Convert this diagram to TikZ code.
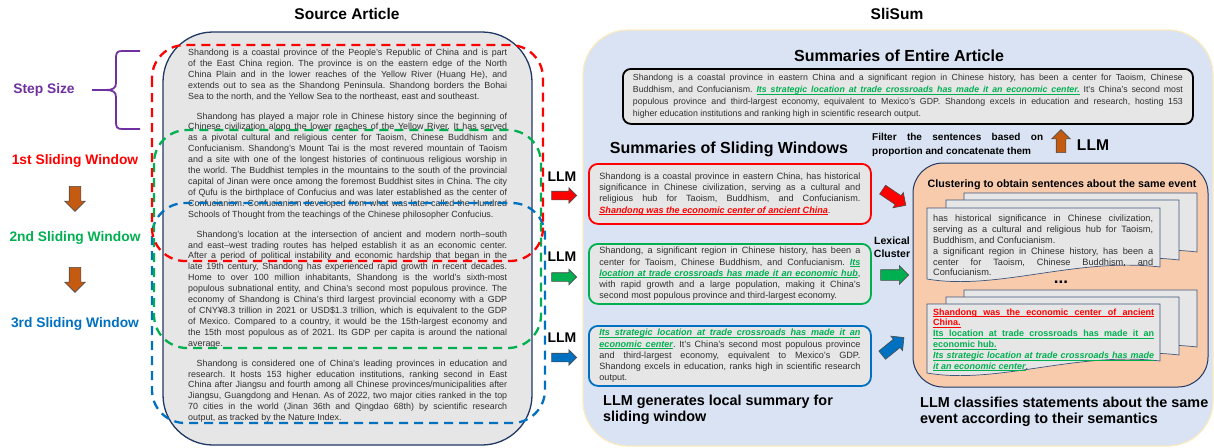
\documentclass[tikz,border=0pt]{standalone}
\usepackage{fontspec}
\setmainfont{Liberation Sans}
\usetikzlibrary{shapes.arrows}
\frenchspacing

\definecolor{winred}{HTML}{FF0000}
\definecolor{wingreen}{HTML}{00B050}
\definecolor{winblue}{HTML}{0070C0}
\definecolor{stepviolet}{HTML}{7030A0}
\definecolor{llmbrown}{HTML}{C55A11}
\definecolor{paper}{HTML}{E7E6E6}
\definecolor{navy}{HTML}{1F3864}
\definecolor{panelblue}{HTML}{DAE3F3}
\definecolor{panelrim}{HTML}{FBEBC0}
\definecolor{peach}{HTML}{F8CBAD}
\definecolor{bodytext}{HTML}{303030}

% underline word by word, so the gaps still stretch
\newcommand\ulword[1]{\setbox0\hbox{#1}\rlap{\vrule height -1.2pt depth 1.8pt width \wd0}\box0}
\newcommand\ulgap{\leaders\vrule height -1.2pt depth 1.8pt\hskip\fontdimen2\font plus\fontdimen3\font minus\fontdimen4\font}
\def\ulsplit#1 #2\ulstop{\ulword{#1}\ifx\relax#2\relax\else\ulgap\ulsplit#2\ulstop\fi}
\newcommand\uls[1]{\ulsplit#1 \ulstop}
% key sentence: [shape]{colour}{text}
\newcommand\keysent[3][\itshape]{\leavevmode{\color{#2}\bfseries#1\uls{#3}}}
% one page of a document stack, top left at (#1,#2), right edge #3 high
\newcommand\docsheet[3]{\draw[fill=paper,draw=navy!85,line width=.7pt](#1,#2)--(#1+233,#2)--(#1+233,#2+#3)
  .. controls (#1+150,#2+#3-10) and (#1+70,#2+#3+24) .. (#1,#2+#3+12)--cycle;}

\begin{document}
\begin{tikzpicture}[x=1pt,y=-1pt,
    paneltitle/.style={font=\fontsize{15.5}{18}\selectfont\bfseries},
    sumhead/.style={font=\fontsize{16}{19}\selectfont\bfseries},
    stagenote/.style={anchor=north west,inner sep=0pt,align=left,font=\fontsize{14.4}{16.6}\selectfont\bfseries},
    winlabel/.style={font=\fontsize{13.8}{16}\selectfont\bfseries},
    llmtag/.style={font=\fontsize{14}{16}\selectfont\bfseries},
    slidewin/.style={line width=2.3pt,dash pattern=on 9pt off 6pt,rounded corners=33pt},
    winsum/.style={draw=#1,line width=1.8pt,rounded corners=9pt,fill=paper,anchor=north west,
      text width=261pt,inner xsep=10.5pt,inner ysep=0pt,minimum height=60pt,align=justify,
      text=bodytext,font=\fontsize{9.1}{11.2}\selectfont},
    blockarrow/.style={single arrow,fill=#1,draw=black!70,line width=.6pt,inner xsep=0pt,inner ysep=4pt,
      single arrow head extend=3.5pt,single arrow head indent=0pt,minimum height=25pt}]
  \useasboundingbox (0,0) rectangle (1214,447);

  % source article
  \node[paneltitle] (srctitle) at (347,14) {Source Article};
  \draw[fill=paper,draw=navy,line width=1.3pt,rounded corners=50pt](163,32)rectangle(532,445);
  \node[anchor=north west,inner sep=0pt,text width=319pt,align=justify,text=bodytext,
    font=\fontsize{8.9}{10.9}\selectfont] (article) at (188,48.8) {%
    \setlength{\parskip}{9.1pt}\setlength{\parindent}{8.5pt}%
    Shandong is a coastal province of the People's Republic of China and is part\linebreak
    of the East China region. The province is on the eastern edge of the North\linebreak
    China Plain and in the lower reaches of the Yellow River (Huang He), and\linebreak
    extends out to sea as the Shandong Peninsula. Shandong borders the Bohai\linebreak
    Sea to the north, and the Yellow Sea to the northeast, east and southeast.\par
    Shandong has played a major role in Chinese history since the beginning of\linebreak
    Chinese civilization along the lower reaches of the Yellow River. It has served\linebreak
    as a pivotal cultural and religious center for Taoism, Chinese Buddhism and\linebreak
    Confucianism. Shandong's Mount Tai is the most revered mountain of Taoism\linebreak
    and a site with one of the longest histories of continuous religious worship in\linebreak
    the world. The Buddhist temples in the mountains to the south of the provincial\linebreak
    capital of Jinan were once among the foremost Buddhist sites in China. The city\linebreak
    of Qufu is the birthplace of Confucius and was later established as the center of\linebreak
    Confucianism. Confucianism developed from what was later called the Hundred\linebreak
    Schools of Thought from the teachings of the Chinese philosopher Confucius.\par
    Shandong's location at the intersection of ancient and modern north--south\linebreak
    and east--west trading routes has helped establish it as an economic center.\linebreak
    After a period of political instability and economic hardship that began in the\linebreak
    late 19th century, Shandong has experienced rapid growth in recent decades.\linebreak
    Home to over 100 million inhabitants, Shandong is the world's sixth-most\linebreak
    populous subnational entity, and China's second most populous province. The\linebreak
    economy of Shandong is China's third largest provincial economy with a GDP\linebreak
    of CNY¥8.3 trillion in 2021 or USD\$1.3 trillion, which is equivalent to the GDP\linebreak
    of Mexico. Compared to a country, it would be the 15th-largest economy and\linebreak
    the 15th most populous as of 2021. Its GDP per capita is around the national\linebreak
    average.\par
    Shandong is considered one of China's leading provinces in education and\linebreak
    research. It hosts 153 higher education institutions, ranking second in East\linebreak
    China after Jiangsu and fourth among all Chinese provinces/municipalities after\linebreak
    Jiangsu, Guangdong and Henan. As of 2022, two major cities ranked in the top\linebreak
    70 cities in the world (Jinan 36th and Qingdao 68th) by scientific research\linebreak
    output, as tracked by the Nature Index.};

  % the three windows
  \draw[slidewin,winblue](152,203)rectangle(545,423);
  \draw[slidewin,wingreen](154,130)rectangle(541,348);
  \draw[slidewin,winred](152,45)rectangle(543,261);

  % step size brace
  \draw[stepviolet,line width=1.8pt](140,51)--(122,51) .. controls (117,51) and (116,53) .. (116,58)
    --(116,83) .. controls (116,88) and (113,90) .. (106,90)--(92,90)
    (106,90) .. controls (113,90) and (116,92) .. (116,97)--(116,122)
    .. controls (116,127) and (117,129) .. (122,129)--(140,129);
  \node[winlabel,text=stepviolet] (stepsize) at (44,90) {Step Size};

  \node[winlabel,text=winred] (firstwin) at (75,161) {1st Sliding Window};
  \node[blockarrow=llmbrown,inner ysep=5.5pt,single arrow head extend=4.5pt,rotate=-90] (nextA) at (75,196) {};
  \node[winlabel,text=wingreen] (secondwin) at (75,238) {2nd Sliding Window};
  \node[blockarrow=llmbrown,inner ysep=5.5pt,single arrow head extend=4.5pt,rotate=-90] (nextB) at (75,277) {};
  \node[winlabel,text=winblue] (thirdwin) at (75,324) {3rd Sliding Window};

  % llm per window
  \node[llmtag] (llmA) at (562,177) {LLM};
  \node[blockarrow=winred] (toA) at (562,195.5) {};
  \node[llmtag] (llmB) at (562,257) {LLM};
  \node[blockarrow=wingreen] (toB) at (562,277) {};
  \node[llmtag] (llmC) at (562,338) {LLM};
  \node[blockarrow=winblue] (toC) at (562,357.5) {};

  % slisum
  \node[paneltitle] (slititle) at (897,14) {SliSum};
  \draw[fill=panelblue,draw=panelrim,line width=1.2pt,rounded corners=45pt](583,30)rectangle(1213,446);

  \node[sumhead] (entirehead) at (899,56) {Summaries of Entire Article};
  \node[draw=black,line width=1.8pt,rounded corners=8pt,fill=paper,anchor=north west,text width=550pt,
    inner xsep=10pt,inner ysep=0pt,minimum height=55pt,align=justify,text=bodytext,
    font=\fontsize{8.8}{12}\selectfont] (entiresum) at (622,68) {%
    Shandong is a coastal province in eastern China and a significant region in Chinese history, has been a center for Taoism, Chinese\linebreak
    Buddhism, and Confucianism. \keysent{wingreen}{Its strategic location at trade crossroads has made it an economic center.} It's China's second most\linebreak
    populous province and third-largest economy, equivalent to Mexico's GDP. Shandong excels in education and research, hosting 153\linebreak
    higher education institutions and ranking high in scientific research output.};

  \node[sumhead] (windowhead) at (729,149) {Summaries of Sliding Windows};
  \node[winsum=winred] (sumA) at (588,163) {%
    Shandong is a coastal province in eastern China, has historical\linebreak
    significance in Chinese civilization, serving as a cultural and\linebreak
    religious hub for Taoism, Buddhism, and Confucianism.\linebreak
    \keysent{winred}{Shandong was the economic center of ancient China}.};
  \node[winsum=wingreen] (sumB) at (588,243) {%
    Shandong, a significant region in Chinese history, has been a\linebreak
    center for Taoism, Chinese Buddhism, and Confucianism. \keysent{wingreen}{Its}\linebreak
    \keysent{wingreen}{location at trade crossroads has made it an economic hub},\linebreak
    with rapid growth and a large population, making it China's\linebreak
    second most populous province and third-largest economy.};
  \node[winsum=winblue] (sumC) at (588,325) {%
    \keysent{wingreen}{Its strategic location at trade crossroads has made it an}\linebreak
    \keysent{wingreen}{economic center}. It's China's second most populous province\linebreak
    and third-largest economy, equivalent to Mexico's GDP.\linebreak
    Shandong excels in education, ranks high in scientific research\linebreak
    output.};
  \node[stagenote] (localnote) at (603,394.7) {LLM generates local summary for\\sliding window};

  % into the clusters
  \node[font=\fontsize{10.5}{13.5}\selectfont\bfseries,align=center] (lexical) at (892,247) {Lexical\\Cluster};
  \node[blockarrow=winred,minimum height=28pt,inner ysep=5pt,single arrow head extend=4pt,rotate=-34] (cluA) at (892,196) {};
  \node[blockarrow=wingreen,minimum height=28pt,inner ysep=5pt,single arrow head extend=4pt] (cluB) at (892,275) {};
  \node[blockarrow=winblue,minimum height=28pt,inner ysep=5pt,single arrow head extend=4pt,rotate=39] (cluC) at (891,348) {};

  \node[anchor=north west,inner sep=0pt,text width=171pt,align=justify,
    font=\fontsize{10}{13.5}\selectfont\bfseries] (filternote) at (872,133.3) {%
    Filter the sentences based on\linebreak proportion and concatenate them};
  \node[blockarrow=llmbrown,minimum height=23pt,inner ysep=4.5pt,single arrow head extend=4.5pt,rotate=90] (upllm) at (1061,143.5) {};
  \node[font=\fontsize{15.6}{18}\selectfont\bfseries] (llmD) at (1093,145) {LLM};

  % clustering panel
  \draw[fill=peach,draw=navy,line width=1pt,rounded corners=30pt](913,163)rectangle(1208,387);
  \node[font=\fontsize{10.7}{13}\selectfont\bfseries] (clusterhead) at (1062,185) {Clustering to obtain sentences about the same event};
  \docsheet{964}{193}{59}
  \docsheet{946}{200}{60}
  \docsheet{927}{208}{59}
  \node[anchor=north west,inner sep=0pt,text width=220pt,align=justify,text=bodytext,
    font=\fontsize{9.2}{10.8}\selectfont] (groupA) at (933,215) {%
    has historical significance in Chinese civilization,\linebreak
    serving as a cultural and religious hub for Taoism,\linebreak
    Buddhism, and Confucianism.\par
    a significant region in Chinese history, has been a\linebreak
    center for Taoism, Chinese Buddhism, and\linebreak
    Confucianism.};
  \node[font=\fontsize{17}{18}\selectfont\bfseries] (moregroups) at (1061,282) {...};
  \docsheet{964}{290}{57}
  \docsheet{946}{297}{58}
  \docsheet{927}{304}{57}
  \node[anchor=north west,inner sep=0pt,text width=221pt,align=justify,text=bodytext,
    font=\fontsize{9}{10.8}\selectfont] (groupB) at (933,308.4) {%
    \keysent[]{winred}{Shandong was the economic center of ancient}\linebreak
    \keysent[]{winred}{China.}\par
    \keysent[]{wingreen}{Its location at trade crossroads has made it an}\linebreak
    \keysent[]{wingreen}{economic hub.}\par
    \keysent{wingreen}{Its strategic location at trade crossroads has made}\linebreak
    \keysent{wingreen}{it an economic center}.};
  \node[stagenote] (classnote) at (920,396.7) {LLM classifies statements about the same\\event according to their semantics};
\end{tikzpicture}
\end{document}
